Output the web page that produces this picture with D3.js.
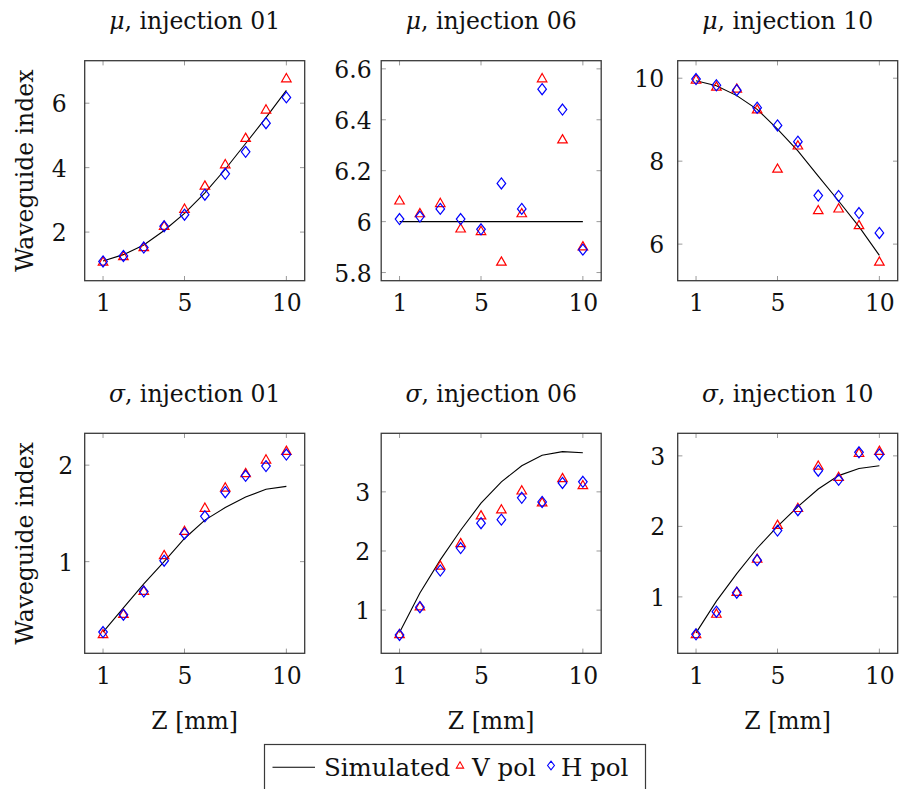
<!DOCTYPE html>
<html>
<head>
<meta charset="utf-8">
<script src="https://cdn.jsdelivr.net/npm/d3@7"></script>
<style>
  html, body { margin: 0; padding: 0; background: #fff; }
  svg { display: block; }
  text { font-family: "DejaVu Serif", "Liberation Serif", serif; fill: #111; }
</style>
</head>
<body>
<svg id="chart" width="900" height="789"></svg>
<script>
// Positions along the waveguide (Z, mm)
const zPos = [1, 2, 3, 4, 5, 6, 7, 8, 9, 10];
const xTicks = [1, 5, 10];

// μ, injection 01
const muSim01 = [1.10, 1.30, 1.60, 2.05, 2.58, 3.22, 3.95, 4.75, 5.55, 6.40];
const muV01   = [1.06, 1.23, 1.51, 2.17, 2.70, 3.42, 4.08, 4.90, 5.78, 6.75];
const muH01   = [1.09, 1.26, 1.52, 2.18, 2.54, 3.16, 3.81, 4.49, 5.38, 6.18];
const muTicks01 = [2, 4, 6];

// μ, injection 06
const muSim06 = [6, 6, 6, 6, 6, 6, 6, 6, 6, 6];
const muV06   = [6.08, 6.03, 6.07, 5.97, 5.96, 5.84, 6.03, 6.56, 6.32, 5.90];
const muH06   = [6.01, 6.02, 6.05, 6.01, 5.97, 6.15, 6.05, 6.52, 6.44, 5.89];
const muTicks06 = [5.8, 6, 6.2, 6.4, 6.6];

// μ, injection 10
const muSim10 = [9.94, 9.82, 9.58, 9.25, 8.77, 8.25, 7.64, 7.04, 6.42, 5.73];
const muV10   = [9.95, 9.78, 9.73, 9.23, 7.80, 8.36, 6.80, 6.84, 6.44, 5.56];
const muH10   = [9.98, 9.83, 9.71, 9.29, 8.86, 8.47, 7.17, 7.16, 6.75, 6.27];
const muTicks10 = [6, 8, 10];

// σ, injection 01
const sdSim01 = [0.27, 0.52, 0.77, 1.00, 1.24, 1.43, 1.56, 1.67, 1.75, 1.78];
const sdV01   = [0.24, 0.45, 0.69, 1.06, 1.31, 1.55, 1.76, 1.91, 2.05, 2.14];
const sdH01   = [0.27, 0.45, 0.69, 1.01, 1.29, 1.47, 1.72, 1.89, 1.99, 2.11];
const sdTicks01 = [1, 2];

// σ, injection 06
const sdSim06 = [0.62, 1.29, 1.85, 2.35, 2.81, 3.17, 3.44, 3.62, 3.68, 3.66];
const sdV06   = [0.58, 1.05, 1.74, 2.12, 2.59, 2.69, 3.01, 2.81, 3.22, 3.10];
const sdH06   = [0.58, 1.05, 1.67, 2.05, 2.47, 2.53, 2.90, 2.83, 3.15, 3.17];
const sdTicks06 = [1, 2, 3];

// σ, injection 10
const sdSim10 = [0.49, 0.94, 1.33, 1.69, 2.00, 2.28, 2.53, 2.72, 2.82, 2.86];
const sdV10   = [0.46, 0.75, 1.06, 1.53, 2.01, 2.25, 2.85, 2.69, 3.03, 3.06];
const sdH10   = [0.47, 0.79, 1.06, 1.52, 1.94, 2.23, 2.79, 2.66, 3.05, 3.02];
const sdTicks10 = [1, 2, 3];

const seriesNames = ["Simulated", "V pol", "H pol"];
const panelSymbols = ["μ", "μ", "μ", "σ", "σ", "σ"];
const panelInjections = ["01", "06", "10", "01", "06", "10"];

const panels = [
  { sim: muSim01, v: muV01, h: muH01, ticks: muTicks01 },
  { sim: muSim06, v: muV06, h: muH06, ticks: muTicks06 },
  { sim: muSim10, v: muV10, h: muH10, ticks: muTicks10 },
  { sim: sdSim01, v: sdV01, h: sdH01, ticks: sdTicks01 },
  { sim: sdSim06, v: sdV06, h: sdH06, ticks: sdTicks06 },
  { sim: sdSim10, v: sdV10, h: sdH10, ticks: sdTicks10 }
].map((p, i) => Object.assign(p, { symbol: panelSymbols[i], inj: panelInjections[i] }));

// Layout
const W = 220, H = 220;
const lefts = [84.7, 381.2, 677.7];
const tops = [60.7, 433.3];
const labelGap = [18, 9.5, 13.5, 11.5, 11, 12.5];
const FS = 23.5;
const LEG_FS = 24.5;
const FONT = "DejaVu Serif, Liberation Serif, serif";
const markR = 5.5;

const svg = d3.select("#chart");

const triPath = r => `M0,${-r}L${0.866 * r},${0.5 * r}L${-0.866 * r},${0.5 * r}Z`;
const diaPath = r => `M0,${-r}L${0.78 * r},0L0,${r}L${-0.78 * r},0Z`;

panels.forEach((p, i) => {
  const col = i % 3, row = Math.floor(i / 3);
  const g = svg.append("g").attr("transform", `translate(${lefts[col]},${tops[row]})`);

  // pgfplots-style 10% enlargement of the data range
  const xExt = d3.extent(zPos);
  const xPad = (xExt[1] - xExt[0]) * 0.1;
  const x = d3.scaleLinear().domain([xExt[0] - xPad, xExt[1] + xPad]).range([0, W]);
  const yExt = d3.extent([...p.sim, ...p.v, ...p.h]);
  const yPad = (yExt[1] - yExt[0]) * 0.1;
  const y = d3.scaleLinear().domain([yExt[0] - yPad, yExt[1] + yPad]).range([H, 0]);

  // tick marks, pointing inward on all four sides
  const tickLen = 4.7;
  const tk = g.append("g").attr("stroke", "#9a9a9a").attr("stroke-width", 1);
  xTicks.forEach(t => {
    tk.append("line").attr("x1", x(t)).attr("x2", x(t)).attr("y1", H).attr("y2", H - tickLen);
    tk.append("line").attr("x1", x(t)).attr("x2", x(t)).attr("y1", 0).attr("y2", tickLen);
  });
  p.ticks.forEach(t => {
    tk.append("line").attr("y1", y(t)).attr("y2", y(t)).attr("x1", 0).attr("x2", tickLen);
    tk.append("line").attr("y1", y(t)).attr("y2", y(t)).attr("x1", W).attr("x2", W - tickLen);
  });

  // bottom axis labels via d3 axis, then restyled
  const xAxis = g.append("g").attr("transform", `translate(0,${H})`)
    .call(d3.axisBottom(x).tickValues(xTicks).tickFormat(d3.format("d")).tickSize(0).tickPadding(0));
  xAxis.select(".domain").remove();
  xAxis.selectAll("text")
    .attr("font-size", FS).attr("font-family", FONT)
    .attr("fill", "#111").attr("y", 30.5).attr("dy", 0);

  const yAxis = g.append("g")
    .call(d3.axisLeft(y).tickValues(p.ticks).tickFormat(d => d3.format("~g")(d)).tickSize(0).tickPadding(labelGap[i]));
  yAxis.select(".domain").remove();
  yAxis.selectAll("text")
    .attr("font-size", FS).attr("font-family", FONT)
    .attr("fill", "#111").attr("dy", "0.36em");

  // frame
  g.append("rect").attr("width", W).attr("height", H)
    .attr("fill", "none").attr("stroke", "#3a3a3a").attr("stroke-width", 1.3);

  // simulated curve
  const line = d3.line().x((d, k) => x(zPos[k])).y(d => y(d));
  g.append("path").datum(p.sim).attr("d", line)
    .attr("fill", "none").attr("stroke", "#000").attr("stroke-width", 1.1);

  // V pol markers
  g.append("g").selectAll("path").data(p.v).join("path")
    .attr("transform", (d, k) => `translate(${x(zPos[k])},${y(d)})`)
    .attr("d", triPath(markR))
    .attr("fill", "none").attr("stroke", "#ff0000").attr("stroke-width", 1.2);

  // H pol markers
  g.append("g").selectAll("path").data(p.h).join("path")
    .attr("transform", (d, k) => `translate(${x(zPos[k])},${y(d)})`)
    .attr("d", diaPath(markR))
    .attr("fill", "none").attr("stroke", "#0000ff").attr("stroke-width", 1.2);

  // title
  const title = g.append("text").attr("x", W / 2).attr("y", -31.5)
    .attr("text-anchor", "middle").attr("font-size", FS);
  title.append("tspan").attr("font-style", "italic").text(p.symbol);
  title.append("tspan").text(", injection " + p.inj);

  if (col === 0) {
    g.append("text")
      .attr("transform", `translate(${33 - lefts[0]},${H / 2}) rotate(-90)`)
      .attr("text-anchor", "middle").attr("font-size", FS)
      .text("Waveguide index");
  }
  if (row === 1) {
    g.append("text").attr("x", W / 2).attr("y", H + 76)
      .attr("text-anchor", "middle").attr("font-size", FS)
      .text("Z [mm]");
  }
});

// legend
const lg = svg.append("g");
lg.append("rect").attr("x", 264.5).attr("y", 744.5).attr("width", 381).attr("height", 60)
  .attr("fill", "#fff").attr("stroke", "#3a3a3a").attr("stroke-width", 1.2);
lg.append("line").attr("x1", 272.5).attr("x2", 315).attr("y1", 767.3).attr("y2", 767.3)
  .attr("stroke", "#000").attr("stroke-width", 1.1);
lg.append("text").attr("x", 324).attr("y", 775.5).attr("font-size", LEG_FS).text(seriesNames[0]);
lg.append("path").attr("transform", "translate(460,766)").attr("d", triPath(4.2))
  .attr("fill", "none").attr("stroke", "#ff0000").attr("stroke-width", 1.1);
lg.append("text").attr("x", 472).attr("y", 775.5).attr("font-size", LEG_FS).text(seriesNames[1]);
lg.append("path").attr("transform", "translate(551,765.5)").attr("d", diaPath(4.4))
  .attr("fill", "none").attr("stroke", "#0000ff").attr("stroke-width", 1.1);
lg.append("text").attr("x", 561).attr("y", 775.5).attr("font-size", LEG_FS).text(seriesNames[2]);
</script>
</body>
</html>
